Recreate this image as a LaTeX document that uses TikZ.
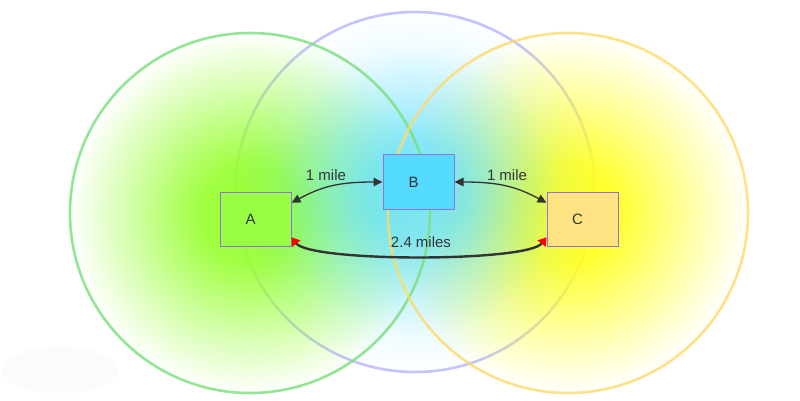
\documentclass[tikz,border=0pt]{standalone}
\usepackage{fontspec}
\setmainfont{Liberation Sans}
\usetikzlibrary{arrows.meta,fadings,calc}
\definecolor{greenfill}{HTML}{99FF33}
\definecolor{bluefill}{HTML}{55DDFF}
\definecolor{yellowfill}{HTML}{FFFF22}
\definecolor{greenedge}{HTML}{7ADF7A}
\definecolor{blueedge}{HTML}{C4C4FF}
\definecolor{yellowedge}{HTML}{FFDA6A}
\definecolor{boxedge}{HTML}{9370DB}
\definecolor{boxA}{HTML}{99FF44}
\definecolor{boxB}{HTML}{55DBFF}
\definecolor{boxC}{HTML}{FFE382}
\definecolor{txt}{HTML}{333333}
\definecolor{ghost}{HTML}{FBFBFE}
\pgfdeclareradialshading{softdiscshade}{\pgfpointorigin}{color(0bp)=(pgftransparent!0); color(7bp)=(pgftransparent!8); color(16bp)=(pgftransparent!55); color(25bp)=(pgftransparent!100); color(50bp)=(pgftransparent!100)}
\pgfdeclarefading{softdisc}{\pgfuseshading{softdiscshade}}
\pgfdeclareradialshading{tightdiscshade}{\pgfpointorigin}{color(0bp)=(pgftransparent!0); color(7bp)=(pgftransparent!12); color(14bp)=(pgftransparent!55); color(20bp)=(pgftransparent!88); color(25bp)=(pgftransparent!100); color(50bp)=(pgftransparent!100)}
\pgfdeclarefading{tightdisc}{\pgfuseshading{tightdiscshade}}
\begin{document}
\begin{tikzpicture}[x=1pt,y=-1pt,
  font=\fontsize{15}{18}\selectfont,
  box/.style={draw=boxedge, line width=1pt, minimum width=71pt, minimum height=54.5pt, inner sep=0pt, text=txt},
  lbl/.style={text=txt, inner sep=1pt},
  link/.style={draw=txt, line width=1.3pt, {Triangle[length=9pt,width=8.5pt]}-{Triangle[length=9pt,width=8.5pt]}},
  longlink/.style={draw=txt, line width=2.4pt, {Triangle[length=8pt,width=10pt,color=red]}-{Triangle[length=8pt,width=10pt,color=red]}},
  ring/.style={line width=2.6pt}]
\useasboundingbox (0,0) rectangle (800,400);
\fill[white] (0,0) rectangle (800,400);
\fill[ghost] (60,370) ellipse[x radius=58, y radius=23];
% blue ring underneath
\draw[ring, blueedge] (415,192) circle[radius=180];
% green and yellow ranges
\fill[greenfill, path fading=softdisc] (250,213) circle[radius=180];
\fill[yellowfill, path fading=softdisc] (568,213) circle[radius=180];
% blue glow on top
\fill[bluefill, path fading=tightdisc, fill opacity=0.8] (415,192) circle[radius=180];
\draw[ring, greenedge, draw opacity=0.8] (250,213) circle[radius=180];
\draw[ring, yellowedge, draw opacity=0.8] (568,213) circle[radius=180];
% boxes
\node[box, fill=boxA] (A) at (255.5,219.5) {\kern-10pt A};
\node[box, fill=boxB] (B) at (418.5,182) {\kern-10pt B};
\node[box, fill=boxC] (C) at (582.5,219.5) {\kern-10pt C};
% connectors
\draw[link] ($(A.north east)+(0,11)$) .. controls +(30,-16) and +(-45,0) .. (B.west);
\draw[link] (B.east) .. controls +(45,0) and +(-30,-16) .. ($(C.north west)+(0,11)$);
\draw[longlink] ($(A.south east)+(0,-10)$) .. controls +(19,25) and +(-19,25) .. ($(C.south west)+(0,-10)$);
% labels
\node[lbl] (l1) at (326,175) {1 mile};
\node[lbl] (l2) at (507,175) {1 mile};
\node[lbl] (l3) at (421,242) {2.4 miles};
\end{tikzpicture}
\end{document}
